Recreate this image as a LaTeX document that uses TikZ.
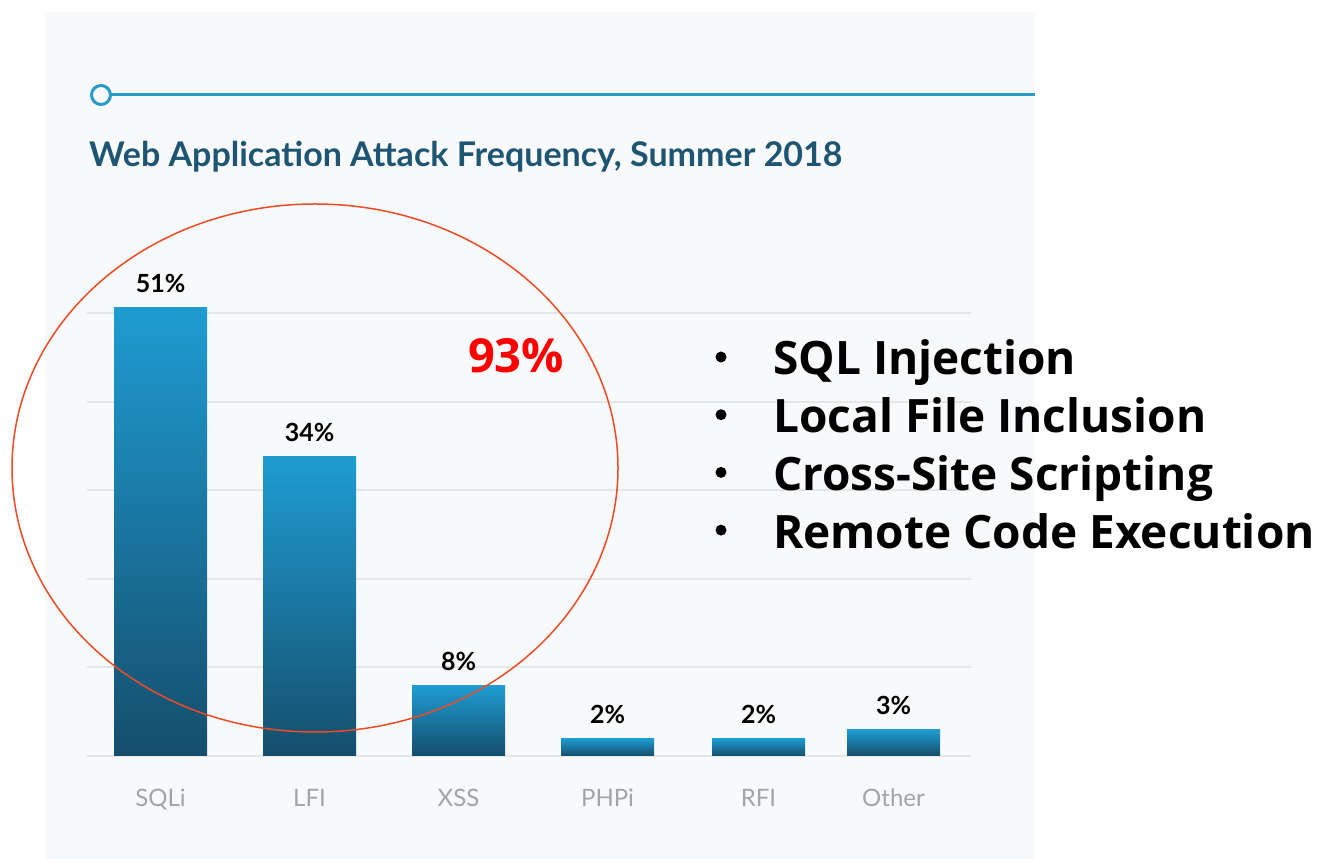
\documentclass[tikz,border=0pt]{standalone}
\usepackage{fontspec}
\setmainfont{Lato}
\newfontfamily\pptfont{Open Sans}
\usetikzlibrary{positioning}

\definecolor{panelbg}{HTML}{F8F9FB}
\definecolor{gridgray}{HTML}{E4E6E8}
\definecolor{titleteal}{HTML}{1E5573}
\definecolor{lineblue}{HTML}{2A9AC6}
\definecolor{barlight}{HTML}{1E9CD2}
\definecolor{bardark}{HTML}{154E6C}
\definecolor{catgray}{HTML}{A3A4A6}
\definecolor{ringred}{HTML}{EE4B24}

\begin{document}
\begin{tikzpicture}
  [x=1pt, y=1pt,
   bar/.style={top color=barlight, bottom color=bardark},
   val/.style={anchor=base, inner sep=0pt, font=\fontsize{25}{30}\selectfont\bfseries},
   cat/.style={anchor=base, inner sep=0pt, text=catgray, font=\fontsize{24}{28}\selectfont},
   item/.style={anchor=base west, inner sep=0pt, text height=36pt, text depth=10pt,
     font=\pptfont\fontsize{46}{52}\selectfont\bfseries}]
  \useasboundingbox (0,0) rectangle (1330,859);
  \fill[panelbg] (45,0) rectangle (1035,847);

  % header
  \draw[lineblue, line width=3pt] (101,764) circle (9.5);
  \draw[lineblue, line width=3pt] (110.5,764) -- (1035,764);
  \node (title) [anchor=base west, inner sep=0pt, text=titleteal,
    font=\fontsize{34}{40}\selectfont\bfseries] at (89,692)
    {Web Application Attack Frequency, Summer 2018};

  % grid
  \foreach \k in {0,...,5}
    \draw[gridgray, line width=2pt] (87,103+\k*88.6) -- (971,103+\k*88.6);

  % bars
  \foreach \name/\x/\v in {SQLi/114/51, LFI/263/34, XSS/412/8, PHPi/561/2, RFI/712/2, Other/847/3} {
    \shade[bar] (\x,103) rectangle ++(93,\v*8.8);
    \node[val] (v\name) at (\x+46.5,103+\v*8.8+15) {\v\%};
    \node[cat] (c\name) at (\x+46.5,52) {\name};
  }

  \draw[ringred, line width=1.5pt] (315,391) ellipse (303 and 264);
  \node (total) [anchor=base, inner sep=0pt, text=red,
    font=\pptfont\fontsize{47}{52}\selectfont\bfseries] at (516,486) {93\%};

  % attack types
  \node (sqli) [item] at (773,484) {SQL Injection};
  \node (lfi) [item, below=11.3pt of sqli.south west, anchor=north west] {Local File Inclusion};
  \node (xss) [item, below=11.3pt of lfi.south west, anchor=north west] {Cross-Site Scripting};
  \node (rce) [item, below=11.3pt of xss.south west, anchor=north west] {Remote Code Execution};
  \foreach \i in {sqli,lfi,xss,rce}
    \fill (\i.base west) ++(-52,18) circle (5.5);
\end{tikzpicture}
\end{document}
